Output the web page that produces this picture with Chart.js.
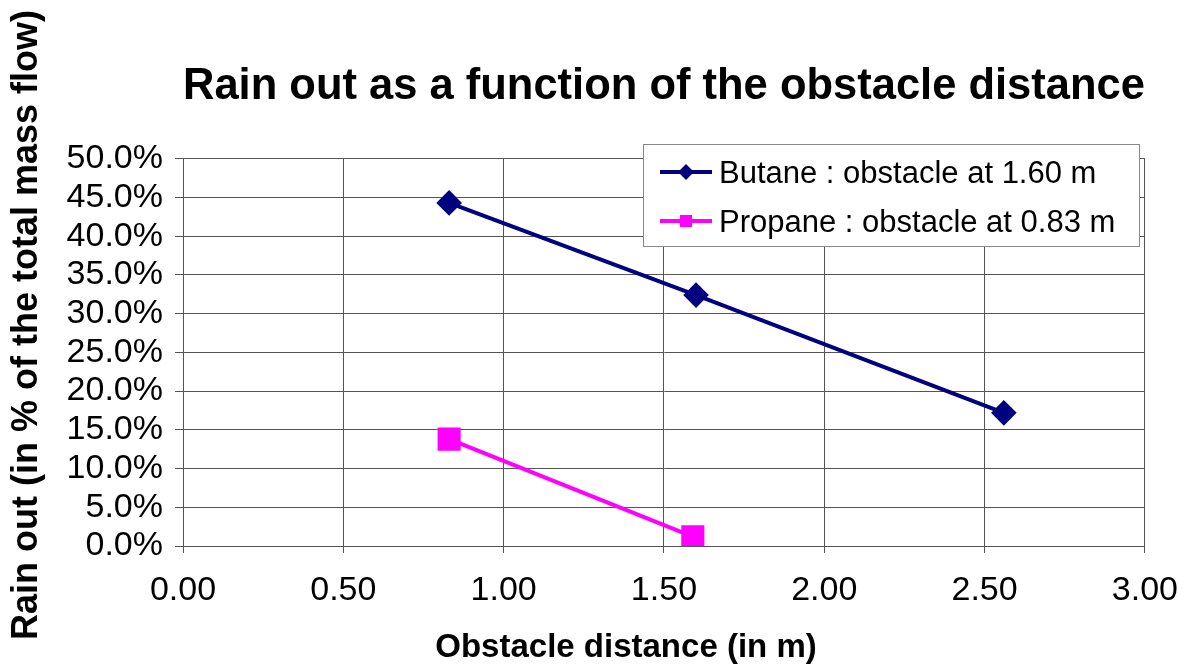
<!DOCTYPE html>
<html>
<head>
<meta charset="utf-8">
<script src="https://cdn.jsdelivr.net/npm/chart.js@4"></script>
<style>
  html, body { margin: 0; padding: 0; background: #fff; }
  #wrap { width: 1199px; height: 668px; }
</style>
</head>
<body>
<div id="wrap"><canvas id="rain"></canvas></div>
<script>
// values
const butaneX = [0.83, 1.60, 2.56];
const butaneY = [0.443, 0.324, 0.172];
const propaneX = [0.83, 1.59];
const propaneY = [0.138, 0.012];
const seriesNames = ["Butane : obstacle at 1.60 m", "Propane : obstacle at 0.83 m"];
const xAxisTitle = "Obstacle distance (in m)";
const yAxisTitle = "Rain out (in % of the total mass flow)";

const FONT = "'Liberation Sans', Arial, sans-serif";
const toPoints = (xs, ys) => xs.map((x, i) => ({ x: x, y: ys[i] }));

// axis titles sit off-centre in the original, so draw them by hand
const axisTitles = {
  id: "axisTitles",
  afterDraw(chart) {
    const ctx = chart.ctx;
    ctx.save();
    ctx.fillStyle = "#000";
    ctx.textAlign = "center";
    ctx.textBaseline = "middle";
    ctx.font = "bold 33px " + FONT;
    ctx.fillText(xAxisTitle, 626, 648);
    ctx.translate(27, 325);
    ctx.rotate(-Math.PI / 2);
    ctx.font = "bold 36px " + FONT;
    ctx.fillText(yAxisTitle, 0, 0);
    ctx.restore();
  }
};

// legend box drawn inside the plot, like the spreadsheet one
const boxLegend = {
  id: "boxLegend",
  afterDraw(chart) {
    const ctx = chart.ctx;
    const x0 = 643, y0 = 144, w = 496, h = 102;
    ctx.save();
    ctx.fillStyle = "#fff";
    ctx.fillRect(x0, y0, w, h);
    ctx.strokeStyle = "#888";
    ctx.lineWidth = 1;
    ctx.strokeRect(x0 + 0.5, y0 + 0.5, w, h);
    ctx.font = "31px " + FONT;
    ctx.textBaseline = "middle";
    chart.data.datasets.forEach((ds, i) => {
      const cy = 172 + i * 49;
      ctx.strokeStyle = ds.borderColor;
      ctx.lineWidth = 4;
      ctx.beginPath();
      ctx.moveTo(660, cy);
      ctx.lineTo(712, cy);
      ctx.stroke();
      ctx.fillStyle = ds.backgroundColor;
      ctx.beginPath();
      if (ds.pointStyle === "rectRot") {
        ctx.moveTo(686, cy - 8); ctx.lineTo(694, cy); ctx.lineTo(686, cy + 8); ctx.lineTo(678, cy);
        ctx.closePath();
      } else {
        ctx.rect(680, cy - 6, 12, 12);
      }
      ctx.fill();
      ctx.fillStyle = "#000";
      ctx.fillText(ds.label, 719, cy + 2);
    });
    ctx.restore();
  }
};

new Chart(document.getElementById("rain"), {
  type: "line",
  data: {
    datasets: [
      {
        label: seriesNames[0],
        data: toPoints(butaneX, butaneY),
        borderColor: "#000080",
        backgroundColor: "#000080",
        borderWidth: 4,
        pointStyle: "rectRot",
        pointRadius: 10,
        pointHoverRadius: 10,
        tension: 0,
      },
      {
        label: seriesNames[1],
        data: toPoints(propaneX, propaneY),
        borderColor: "#ff00ff",
        backgroundColor: "#ff00ff",
        borderWidth: 4,
        pointStyle: "rect",
        pointRadius: 13.5,
        pointHoverRadius: 13.5,
        tension: 0,
      },
    ],
  },
  options: {
    responsive: true,
    maintainAspectRatio: false,
    animation: false,
    layout: { padding: { left: 6, right: 45, top: 0, bottom: 0 } },
    plugins: {
      legend: { display: false },
      tooltip: { enabled: false },
      title: {
        display: true,
        fullSize: false,
        text: "Rain out as a function of the obstacle distance",
        color: "#000",
        font: { family: FONT, size: 44, weight: "bold" },
        padding: { top: 60, bottom: 46 },
      },
    },
    scales: {
      x: {
        type: "linear",
        min: 0,
        max: 3,
        afterFit: (s) => { s.height = 122; },
        ticks: {
          stepSize: 0.5,
          color: "#000",
          padding: 21,
          font: { family: FONT, size: 34, lineHeight: 1 },
          callback: (v) => v.toFixed(2),
        },
        grid: { color: "#555", lineWidth: 1, tickLength: 7 },
        border: { color: "#555" },
      },
      y: {
        min: 0,
        max: 0.5,
        afterFit: (s) => { s.width = 177; },
        ticks: {
          stepSize: 0.05,
          autoSkip: false,
          color: "#000",
          padding: 12,
          font: { family: FONT, size: 34, lineHeight: 1 },
          callback: (v) => (v * 100).toFixed(1) + "%",
        },
        grid: { color: "#555", lineWidth: 1, tickLength: 8 },
        border: { color: "#555" },
      },
    },
  },
  plugins: [axisTitles, boxLegend],
});
</script>
</body>
</html>
